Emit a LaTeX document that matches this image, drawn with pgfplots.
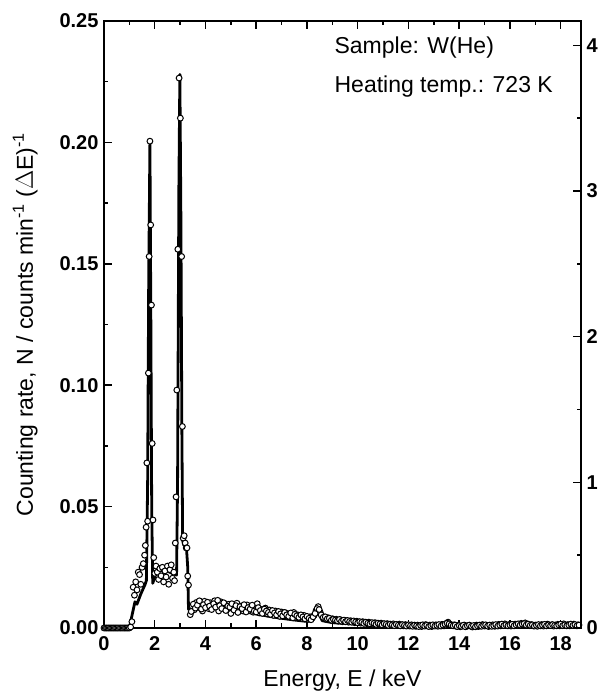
\documentclass[border=0pt]{standalone}
\usepackage{pgfplots}
\pgfplotsset{compat=1.18}
\usepackage{fontspec}
\setmainfont{Liberation Sans}
\begin{document}
\begin{tikzpicture}
\begin{axis}[
  name=main,
  scale only axis, width=477pt, height=607pt,
  xmin=0, xmax=18.8, ymin=0, ymax=0.25,
  xtick={0,2,...,18}, minor x tick num=1,
  ytick={0,0.05,...,0.25}, minor y tick num=1,
  ytick pos=left,
  tick align=inside,
  major tick length=8pt, minor tick length=4.5pt,
  every tick/.style={line width=1.5pt},
  axis line style={line width=1.7pt},
  /pgf/number format/assume math mode=true,
  yticklabel style={/pgf/number format/fixed, /pgf/number format/fixed zerofill, /pgf/number format/precision=2, xshift=-2pt},
  scaled y ticks=false,
  ticklabel style={font=\fontsize{20}{23}\selectfont\bfseries},
  xticklabel style={yshift=-5pt},
  xlabel={Energy, E / keV},
  ylabel={Counting rate, N / counts min\textsuperscript{-1} ($\Delta$E)\textsuperscript{-1}},
  label style={font=\fontsize{23}{26}\selectfont},
  ylabel style={yshift=15pt},
  xlabel style={yshift=-12pt},
  clip=false,
]
% fitted spectrum
\addplot[black, line width=2.8pt, line join=round] coordinates {
(0,0) (1.0,0) (1.1,0.005) (1.22,0.0108) (1.3,0.0098) (1.45,0.014) (1.61,0.0177) (1.67,0.0195)
(1.72,0.06) (1.76,0.14) (1.81,0.200) (1.85,0.12) (1.88,0.05) (1.92,0.0184)
(2.07,0.0232) (2.3,0.0238) (2.47,0.0235) (2.7,0.0225) (2.86,0.0218)
(2.9,0.06) (2.95,0.18) (2.99,0.228) (3.03,0.17) (3.07,0.08) (3.1,0.036)
(3.15,0.034) (3.2,0.036) (3.25,0.033) (3.3,0.025) (3.33,0.0077)
(3.5,0.0080) (4.0,0.0084) (4.5,0.0083) (5.0,0.0076) (5.5,0.0068) (6.0,0.0058)
(6.5,0.0048) (7.0,0.0040) (7.5,0.0033) (8.0,0.0027) (8.2,0.0030) (8.3,0.0060)
(8.4,0.0075) (8.5,0.0055) (8.6,0.0030) (9.0,0.0022) (10,0.0016) (11,0.0012)
(12,0.0010) (13,0.0009) (14,0.0009) (15,0.0009) (16,0.0009) (17,0.0009) (18,0.0009) (18.8,0.0009)
};
% measured points
\addplot[only marks, mark=*, mark size=2.9pt, mark options={draw=black, fill=white, line width=1pt}] coordinates {
(0.00,0) (0.05,0) (0.10,0) (0.15,0) (0.20,0) (0.25,0) (0.30,0) (0.35,0) (0.40,0) (0.45,0)
(0.50,0) (0.55,0) (0.60,0) (0.65,0) (0.70,0) (0.75,0) (0.80,0) (0.85,0) (0.90,0) (0.95,0)
(1.00,0) (1.05,0.0004)
(1.10,0.0026) (1.15,0.0168) (1.20,0.0135) (1.25,0.0190) (1.30,0.0157) (1.35,0.0230)
(1.40,0.0220) (1.45,0.0180) (1.50,0.0250) (1.55,0.0265) (1.60,0.0300) (1.63,0.0340)
(1.66,0.0415) (1.69,0.0680) (1.72,0.0440) (1.75,0.1050) (1.78,0.1530) (1.81,0.2005)
(1.84,0.1660) (1.87,0.1330) (1.90,0.0760) (1.93,0.0445) (1.96,0.0290)
(2.00,0.0225) (2.05,0.0255) (2.10,0.0230) (2.15,0.0200) (2.20,0.0245) (2.25,0.0215)
(2.30,0.0250) (2.35,0.0190) (2.40,0.0235) (2.45,0.0210) (2.50,0.0255) (2.55,0.0180)
(2.60,0.0240) (2.65,0.0260) (2.70,0.0205) (2.75,0.0230) (2.78,0.0195)
(2.81,0.0350) (2.84,0.0540) (2.87,0.0980) (2.91,0.1560) (2.96,0.2265) (3.01,0.2100)
(3.06,0.1530) (3.09,0.0830) (3.12,0.0370) (3.16,0.0380) (3.20,0.0350) (3.24,0.0330)
(3.27,0.0330) (3.30,0.0214) (3.33,0.0177)
(3.40,0.0055) (3.48,0.0090) (3.56,0.0075) (3.64,0.0105) (3.72,0.0085) (3.80,0.0100)
(3.88,0.0070) (3.96,0.0110) (4.04,0.0092) (4.12,0.0080) (4.20,0.0104) (4.28,0.0088)
(4.36,0.0112) (4.44,0.0095) (4.52,0.0070) (4.60,0.0108) (4.68,0.0090) (4.76,0.0100)
(4.84,0.0082) (4.92,0.0098) (5.00,0.0060) (5.08,0.0095) (5.16,0.0085) (5.24,0.0102)
(5.32,0.0078) (5.40,0.0090) (5.48,0.0070) (5.56,0.0085) (5.64,0.0095) (5.72,0.0072)
(5.80,0.0088) (5.88,0.0065) (5.96,0.0080) (6.04,0.0100) (6.12,0.0062) (6.20,0.0076)
(6.28,0.0068) (6.36,0.0082) (6.44,0.0058) (6.52,0.0074) (6.60,0.0066) (6.68,0.0052)
(6.76,0.0070) (6.84,0.0060) (6.92,0.0048) (7.00,0.0066) (7.08,0.0055) (7.16,0.0062)
(7.24,0.0046) (7.32,0.0058) (7.40,0.0050) (7.48,0.0064) (7.56,0.0044) (7.64,0.0054)
(7.72,0.0048) (7.80,0.0040) (7.88,0.0052) (7.96,0.0042) (8.04,0.0036) (8.12,0.0046)
(8.20,0.0040) (8.28,0.0052) (8.36,0.0072) (8.44,0.0088) (8.52,0.0065) (8.60,0.0048)
(8.68,0.0040) (8.76,0.0036) (8.84,0.0042) (8.92,0.0034) (9.00,0.0038) (9.08,0.0030)
(9.16,0.0036) (9.24,0.0028) (9.32,0.0034) (9.40,0.0026) (9.48,0.0032) (9.56,0.0030)
(9.64,0.0024) (9.72,0.0030) (9.80,0.0026) (9.88,0.0022) (9.96,0.0028) (10.04,0.0024)
(10.12,0.0020) (10.20,0.0026) (10.28,0.0022) (10.36,0.0018) (10.44,0.0024) (10.52,0.0020)
(10.60,0.0016) (10.68,0.0022) (10.76,0.0018) (10.84,0.0014) (10.92,0.0020) (11.00,0.0016)
(11.08,0.0012) (11.16,0.0018) (11.24,0.0015) (11.32,0.0011) (11.40,0.0017) (11.48,0.0013)
(11.56,0.0010) (11.64,0.0016) (11.72,0.0012) (11.80,0.0009) (11.88,0.0014) (11.96,0.0011)
(12.04,0.0008) (12.12,0.0013) (12.20,0.0010) (12.28,0.0007) (12.36,0.0012) (12.44,0.0009)
(12.52,0.0006) (12.60,0.0011) (12.68,0.0014) (12.76,0.0008) (12.84,0.0012) (12.92,0.0006)
(13.00,0.0010) (13.08,0.0013) (13.16,0.0007) (13.24,0.0011) (13.32,0.0015) (13.40,0.0009)
(13.48,0.0018) (13.56,0.0024) (13.64,0.0016) (13.72,0.0010) (13.80,0.0013) (13.88,0.0007)
(13.96,0.0011) (14.04,0.0005) (14.12,0.0009) (14.20,0.0012) (14.28,0.0006) (14.36,0.0010)
(14.44,0.0008) (14.52,0.0004) (14.60,0.0009) (14.68,0.0012) (14.76,0.0006) (14.84,0.0010)
(14.92,0.0014) (15.00,0.0008) (15.08,0.0011) (15.16,0.0006) (15.24,0.0010) (15.32,0.0013)
(15.40,0.0007) (15.48,0.0011) (15.56,0.0015) (15.64,0.0009) (15.72,0.0012) (15.80,0.0017)
(15.88,0.0010) (15.96,0.0014) (16.04,0.0008) (16.12,0.0012) (16.20,0.0016) (16.28,0.0010)
(16.36,0.0014) (16.44,0.0019) (16.52,0.0013) (16.60,0.0021) (16.68,0.0015) (16.76,0.0010)
(16.84,0.0014) (16.92,0.0009) (17.00,0.0012) (17.08,0.0007) (17.16,0.0011) (17.24,0.0014)
(17.32,0.0008) (17.40,0.0012) (17.48,0.0016) (17.56,0.0010) (17.64,0.0013) (17.72,0.0008)
(17.80,0.0012) (17.88,0.0015) (17.96,0.0009) (18.04,0.0013) (18.12,0.0017) (18.20,0.0011)
(18.28,0.0014) (18.36,0.0009) (18.44,0.0013) (18.52,0.0016) (18.60,0.0010) (18.68,0.0013)
};
% measured points (interleaved channels)
\addplot[only marks, mark=*, mark size=2.9pt, mark options={draw=black, fill=white, line width=1pt}] coordinates {
(3.44,0.0068) (3.52,0.0098) (3.60,0.0082) (3.68,0.0094) (3.76,0.0112) (3.84,0.0078)
(3.92,0.0096) (4.00,0.0084) (4.08,0.0106) (4.16,0.0090) (4.24,0.0076) (4.32,0.0100)
(4.40,0.0086) (4.48,0.0114) (4.56,0.0092) (4.64,0.0080) (4.72,0.0104) (4.80,0.0072)
(4.88,0.0090) (4.96,0.0086) (5.04,0.0100) (5.12,0.0074) (5.20,0.0092) (5.28,0.0064)
(5.36,0.0088) (5.44,0.0080) (5.52,0.0096) (5.60,0.0066) (5.68,0.0084) (5.76,0.0078)
(5.84,0.0094) (5.92,0.0070) (6.00,0.0066) (6.08,0.0084) (6.16,0.0072) (6.24,0.0060)
(6.32,0.0078) (6.40,0.0070) (6.48,0.0064) (6.56,0.0056) (6.64,0.0072) (6.72,0.0062)
(6.80,0.0054) (6.88,0.0068) (6.96,0.0058) (7.04,0.0050) (7.12,0.0064) (7.20,0.0054)
(7.28,0.0048) (7.36,0.0062) (7.44,0.0042) (7.52,0.0056) (7.60,0.0050) (7.68,0.0044)
(7.76,0.0054) (7.84,0.0046) (7.92,0.0038) (8.00,0.0048) (8.08,0.0040) (8.16,0.0034)
(8.24,0.0046) (8.32,0.0060) (8.40,0.0080) (8.48,0.0076) (8.56,0.0054) (8.64,0.0044)
(8.72,0.0046) (8.80,0.0038) (8.88,0.0040) (8.96,0.0032) (9.04,0.0036) (9.12,0.0033)
(9.20,0.0030) (9.28,0.0035) (9.36,0.0028) (9.44,0.0032) (9.52,0.0026) (9.60,0.0031)
(9.68,0.0027) (9.76,0.0024) (9.84,0.0029) (9.92,0.0025) (10.00,0.0021) (10.08,0.0026)
(10.16,0.0023) (10.24,0.0019) (10.32,0.0024) (10.40,0.0020) (10.48,0.0017) (10.56,0.0022)
(10.64,0.0019) (10.72,0.0015) (10.80,0.0020) (10.88,0.0017) (10.96,0.0013) (11.04,0.0018)
(11.12,0.0015) (11.20,0.0011) (11.28,0.0016) (11.36,0.0013) (11.44,0.0010) (11.52,0.0015)
(11.60,0.0012) (11.68,0.0009) (11.76,0.0014) (11.84,0.0011) (11.92,0.0008) (12.00,0.0013)
(12.08,0.0010) (12.16,0.0007) (12.24,0.0012) (12.32,0.0009) (12.40,0.0006) (12.48,0.0011)
(12.56,0.0013) (12.64,0.0008) (12.72,0.0011) (12.80,0.0006) (12.88,0.0010) (12.96,0.0013)
(13.04,0.0008) (13.12,0.0011) (13.20,0.0014) (13.28,0.0008) (13.36,0.0012) (13.44,0.0016)
(13.52,0.0020) (13.60,0.0017) (13.68,0.0012) (13.76,0.0009) (13.84,0.0012) (13.92,0.0006)
(14.00,0.0010) (14.08,0.0007) (14.16,0.0011) (14.24,0.0005) (14.32,0.0009) (14.40,0.0012)
(14.48,0.0007) (14.56,0.0010) (14.64,0.0005) (14.72,0.0009) (14.80,0.0012) (14.88,0.0007)
(14.96,0.0011) (15.04,0.0013) (15.12,0.0008) (15.20,0.0012) (15.28,0.0007) (15.36,0.0010)
(15.44,0.0014) (15.52,0.0008) (15.60,0.0012) (15.68,0.0016) (15.76,0.0010) (15.84,0.0013)
(15.92,0.0009) (16.00,0.0012) (16.08,0.0015) (16.16,0.0009) (16.24,0.0013) (16.32,0.0017)
(16.40,0.0012) (16.48,0.0016) (16.56,0.0018) (16.64,0.0012) (16.72,0.0016) (16.80,0.0011)
(16.88,0.0013) (16.96,0.0008) (17.04,0.0011) (17.12,0.0014) (17.20,0.0009) (17.28,0.0012)
(17.36,0.0015) (17.44,0.0009) (17.52,0.0013) (17.60,0.0010) (17.68,0.0014) (17.76,0.0011)
(17.84,0.0009) (17.92,0.0013) (18.00,0.0016) (18.08,0.0010) (18.16,0.0013) (18.24,0.0009)
(18.32,0.0012) (18.40,0.0016) (18.48,0.0011) (18.56,0.0014) (18.64,0.0009) (18.72,0.0012)
};
\node[anchor=west, font=\fontsize{23}{26}\selectfont] at (axis cs:8.95,0.2389) {Sample: W(He)};
\node[anchor=west, font=\fontsize{23}{26}\selectfont] at (axis cs:8.95,0.2228) {Heating temp.: 723 K};
\end{axis}
\begin{axis}[
  scale only axis, width=477pt, height=607pt,
  xmin=0, xmax=18.8, ymin=0, ymax=4.1667,
  axis x line=none, axis y line*=right,
  ytick={0,1,2,3,4}, minor y tick num=1,
  tick align=inside,
  major tick length=8pt, minor tick length=4.5pt,
  every tick/.style={line width=1.5pt},
  axis line style={line width=1.7pt, -},
  /pgf/number format/assume math mode=true,
  ticklabel style={font=\fontsize{20}{23}\selectfont\bfseries},
  yticklabel style={xshift=2pt},
]
\addplot[draw=none] coordinates {(0,0)};
\end{axis}
\pgfresetboundingbox
\path ([shift={(-104pt,-67pt)}]main.south west) rectangle ([shift={(24pt,21pt)}]main.north east);
\end{tikzpicture}
\end{document}
